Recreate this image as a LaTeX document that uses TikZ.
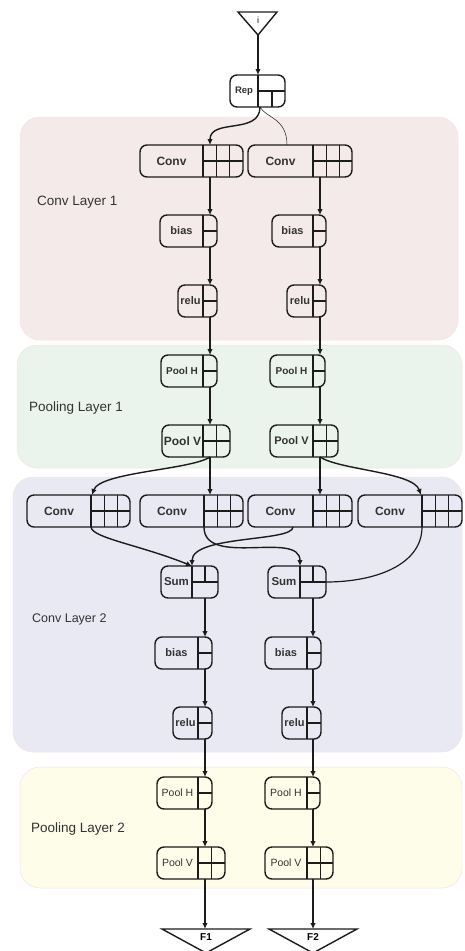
\documentclass[tikz,border=0pt]{standalone}
\usepackage{fontspec}
\setmainfont{Liberation Sans}
\usetikzlibrary{arrows.meta}

\definecolor{convbg}{RGB}{244,234,234}
\definecolor{poolbg}{RGB}{234,244,236}
\definecolor{convtwobg}{RGB}{233,233,244}
\definecolor{pooltwobg}{RGB}{253,253,234}
\definecolor{layerline}{RGB}{246,226,226}
\definecolor{ink}{RGB}{28,28,28}

% #1 label style, #2 name, #3 left, #4 top, #5 right, #6 grid x, #7 label, #8 in x, #9 out x
\newcommand{\unitbox}[9][]{%
  \node[unit, anchor=north west, minimum width={#5-#3}] (#2) at (#3,#4) {};
  \node[unit label, #1] (#2-l) at ({(#3+#6)/2},{#4+16}) {#7};
  \draw[grid line] (#6,#4) -- (#6,{#4+32}) (#6,{#4+16}) -- (#5,{#4+16});
  \coordinate (#2-gt) at (#6,#4);
  \coordinate (#2-gb) at (#6,{#4+32});
  \coordinate (#2-in) at (#8,#4);
  \coordinate (#2-out) at (#9,{#4+32});
}

\begin{document}
\begin{tikzpicture}[x=1pt,y=-1pt,
  unit/.style={draw=ink, rounded corners=7pt, line width=1.4pt, minimum height=32pt, inner sep=0pt, outer sep=0pt},
  grid line/.style={draw=ink, line width=1.4pt},
  unit label/.style={font=\bfseries\fontsize{11}{11}\selectfont, text=ink!90, inner sep=0pt},
  conv label/.style={font=\bfseries\fontsize{12}{12}\selectfont},
  pool label/.style={font=\bfseries\fontsize{10}{10}\selectfont},
  light label/.style={font=\fontsize{10.5}{10.5}\selectfont},
  layer/.style={draw=layerline, line width=0.5pt, rounded corners=20pt},
  layer label/.style={font=\fontsize{13.5}{13.5}\selectfont, text=black!80, anchor=west, inner sep=0pt},
  tri/.style={draw=ink, line width=1.4pt, line join=miter},
  flow/.style={color=ink, line width=1.4pt, -{Latex[length=6pt,width=5.5pt]}},
  thin flow/.style={draw=ink, line width=0.5pt},
  ]

\useasboundingbox (0,0) rectangle (464,951);

% layers
\draw[layer, fill=convbg] (20,117) rectangle (458,340);
\draw[layer, fill=poolbg] (17,345) rectangle (462,468);
\draw[layer, fill=convtwobg] (13,477) rectangle (462,752);
\draw[layer, fill=pooltwobg] (20,767) rectangle (462,888);

\node[layer label] (conv1) at (37,202) {Conv Layer 1};
\node[layer label] (pool1) at (29,408) {Pooling Layer 1};
\node[layer label, font=\fontsize{12.5}{12.5}\selectfont] (conv2) at (32,619) {Conv Layer 2};
\node[layer label] (pool2) at (31,829) {Pooling Layer 2};

% input
\draw[tri] (238,12) -- (277,12) -- (258,35) -- cycle;
\node[font=\fontsize{9}{9}\selectfont, inner sep=0pt] (in) at (258,20) {i};
\coordinate (in-tip) at (258,35);

\unitbox[font=\bfseries\fontsize{9.5}{9.5}\selectfont]{rep}{230}{75}{285}{258}{Rep}{258}{260}

% conv layer 1
\unitbox[conv label]{conv1a}{140}{145}{243}{203}{Conv}{210}{210}
\unitbox[conv label]{conv1b}{248}{145}{352}{313}{Conv}{287}{320}
\unitbox{bias1a}{160}{215}{217}{203}{bias}{210}{210}
\unitbox{bias1b}{272}{215}{326}{313}{bias}{320}{320}
\unitbox{relu1a}{178}{285}{217}{203}{relu}{210}{210}
\unitbox{relu1b}{287}{285}{326}{313}{relu}{320}{320}

% pooling layer 1
\unitbox[pool label]{poolh1a}{161}{355}{217}{203}{Pool H}{210}{210}
\unitbox[pool label]{poolh1b}{270}{355}{325}{313}{Pool H}{320}{320}
\unitbox[conv label]{poolv1a}{162}{425}{230}{203}{Pool V}{210}{210}
\unitbox[font=\bfseries\fontsize{11}{11}\selectfont]{poolv1b}{270}{425}{338}{313}{Pool V}{320}{320}

% conv layer 2
\unitbox[conv label]{convA}{27}{495}{130}{91}{Conv}{92}{91}
\unitbox[conv label]{convB}{140}{495}{243}{204}{Conv}{210}{204}
\unitbox[conv label]{convC}{248}{495}{352}{313}{Conv}{320}{293}
\unitbox[conv label]{convD}{358}{495}{462}{422}{Conv}{421}{422}
\unitbox[font=\bfseries\fontsize{11.5}{11.5}\selectfont]{sumA}{161}{566}{218}{192}{Sum}{192}{205}
\unitbox[font=\bfseries\fontsize{11.5}{11.5}\selectfont]{sumB}{268}{566}{326}{300}{Sum}{300}{313}
\unitbox{bias2a}{155}{637}{212}{198}{bias}{205}{205}
\unitbox{bias2b}{265}{637}{321}{307}{bias}{313}{313}
\unitbox{relu2a}{173}{707}{212}{198}{relu}{205}{205}
\unitbox{relu2b}{282}{707}{321}{307}{relu}{313}{313}

% pooling layer 2
\unitbox[light label]{poolh2a}{157}{777}{212}{198}{Pool H}{205}{205}
\unitbox[light label]{poolh2b}{265}{777}{320}{307}{Pool H}{313}{313}
\unitbox[light label]{poolv2a}{157}{847}{225}{198}{Pool V}{205}{205}
\unitbox[light label]{poolv2b}{265}{847}{333}{307}{Pool V}{313}{313}

% extra cells
\foreach \b in {conv1a,conv1b,convA,convB,convC,convD}
  \foreach \s in {13.3,26.6}
    \draw[grid line] ([xshift=\s pt]\b-gt) -- ([xshift=\s pt]\b-gb);
\foreach \b in {poolv1a,poolv1b,poolv2a,poolv2b}
  \draw[grid line] ([xshift=13.5pt]\b-gt) -- ([xshift=13.5pt]\b-gb);
\draw[grid line] ([xshift=14pt]rep-gb) -- ++(0,-16);
\foreach \b in {sumA,sumB}
  \draw[grid line] ([xshift=13pt]\b-gt) -- ++(0,16);

% outputs
\draw[tri] (162,929) -- (250,929) -- (206,953) -- cycle;
\node[pool label, inner sep=0pt] (f1) at (206,937) {F1};
\coordinate (f1-top) at (205,929);
\draw[tri] (269,929) -- (357,929) -- (313,953) -- cycle;
\node[pool label, inner sep=0pt] (f2) at (313,937) {F2};
\coordinate (f2-top) at (313,929);

% connections
\draw[flow] (in-tip) -- (rep-in);
\draw[flow] (rep-out) .. controls (260,135) and (210,118) .. (conv1a-in);
\draw[thin flow] (rep-out) .. controls (266,118) and (287,118) .. (conv1b-in);

\path[flow] (conv1a-out) edge (bias1a-in)
            (bias1a-out) edge (relu1a-in)
            (relu1a-out) edge (poolh1a-in)
            (poolh1a-out) edge (poolv1a-in)
            (conv1b-out) edge (bias1b-in)
            (bias1b-out) edge (relu1b-in)
            (relu1b-out) edge (poolh1b-in)
            (poolh1b-out) edge (poolv1b-in)
            (poolv1a-out) edge (convB-in)
            (poolv1b-out) edge (convC-in);

\draw[flow] (poolv1a-out) .. controls (190,470) and (100,472) .. (convA-in);
\draw[flow] (poolv1b-out) .. controls (340,470) and (413,472) .. (convD-in);

\draw[flow] (convA-out) .. controls (92,538) and (140,545) .. (sumA-in);
\draw[flow] (convC-out) .. controls (293,542) and (192,535) .. (sumA-in);
\draw[flow] (convB-out) .. controls (204,568) and (300,530) .. (sumB-in);
\draw[draw=ink, line width=1.2pt] (convD-out) .. controls (422,565) and (375,582) .. (sumB.east);

\path[flow] (sumA-out) edge (bias2a-in)
            (bias2a-out) edge (relu2a-in)
            (relu2a-out) edge (poolh2a-in)
            (poolh2a-out) edge (poolv2a-in)
            (poolv2a-out) edge (f1-top)
            (sumB-out) edge (bias2b-in)
            (bias2b-out) edge (relu2b-in)
            (relu2b-out) edge (poolh2b-in)
            (poolh2b-out) edge (poolv2b-in)
            (poolv2b-out) edge (f2-top);
\end{tikzpicture}
\end{document}
